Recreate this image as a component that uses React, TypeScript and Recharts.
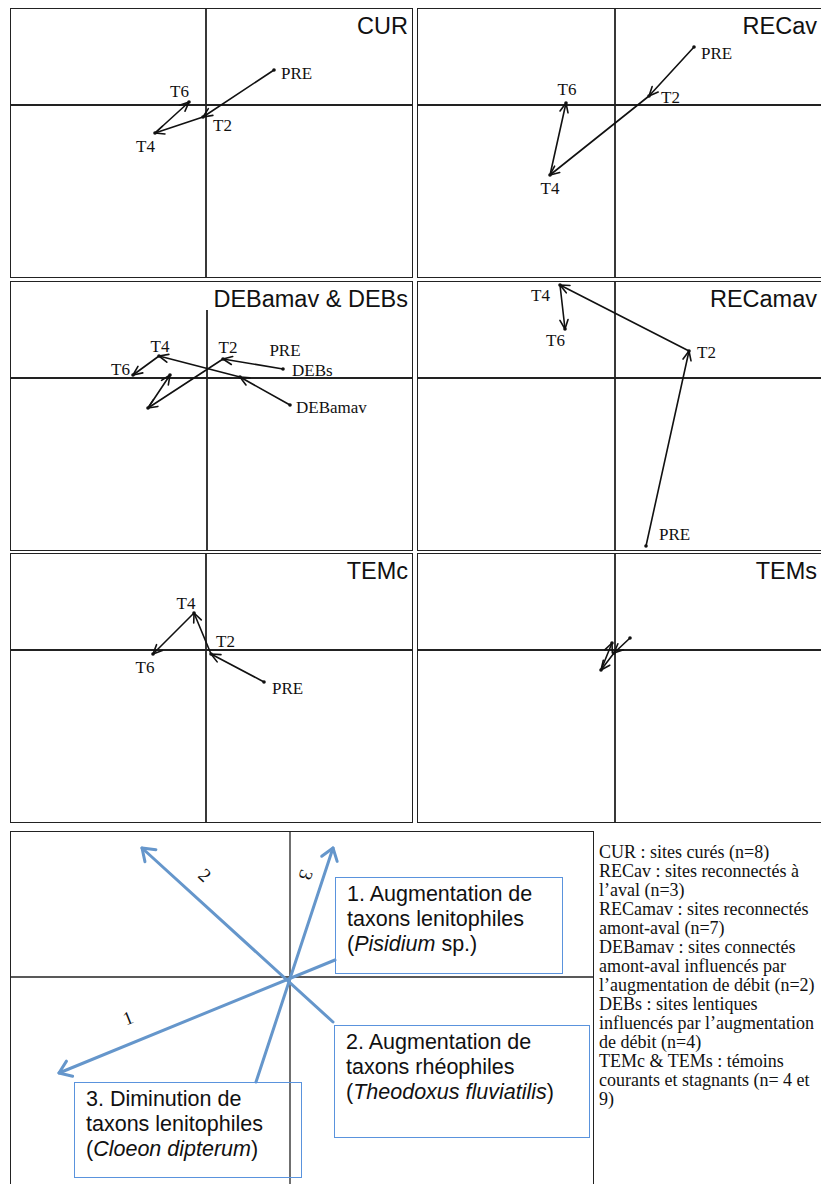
import React from 'react'
import { ScatterChart, Scatter, XAxis, YAxis, ReferenceLine } from 'recharts'

// pixels per ordination unit, shared by every panel
const PX = 100

// ordination scores, in the order PRE -> T2 -> T4 -> T6
const curX = [0.68, -0.03, -0.51, -0.17]
const curY = [0.35, -0.12, -0.28, 0.03]
const recavX = [0.79, 0.34, -0.65, -0.49]
const recavY = [0.58, 0.09, -0.7, 0.02]
const debamavX = [0.83, 0.33, -0.48, -0.74]
const debamavY = [-0.27, 0.01, 0.22, 0.03]
const debsX = [0.76, 0.16, -0.59, -0.37]
const debsY = [0.09, 0.19, -0.3, 0.03]
const recamavX = [0.31, 0.74, -0.55, -0.5]
const recamavY = [-1.68, 0.27, 0.93, 0.49]
const temcX = [0.58, 0.05, -0.12, -0.53]
const temcY = [-0.32, -0.04, 0.37, -0.04]
const temsX = [0.15, -0.01, -0.14, -0.03]
const temsY = [0.12, -0.03, -0.2, 0.07]

// interpretation arrows of the bottom panel
const arrowNames = ['1', '2', '3']
const arrowTailX = [0.45, 0.43, -0.34]
const arrowTailY = [0.17, -0.45, -1.05]
const arrowTipX = [-2.31, -1.48, 0.43]
const arrowTipY = [-0.96, 1.29, 1.29]
const arrowNameX = [-1.62, -0.85, 0.16]
const arrowNameY = [-0.41, 1.02, 1.02]
const arrowNameAngle = [-22, 42, 108]

const legendLines = [
  'CUR : sites curés (n=8)',
  'RECav : sites reconnectés à',
  'l’aval (n=3)',
  'RECamav : sites reconnectés',
  'amont-aval (n=7)',
  'DEBamav : sites connectés',
  'amont-aval influencés par',
  'l’augmentation de débit (n=2)',
  'DEBs : sites lentiques',
  'influencés par l’augmentation',
  'de débit (n=4)',
  'TEMc & TEMs : témoins',
  'courants et stagnants (n= 4 et',
  '9)',
]

type Anchor = 'start' | 'middle' | 'end'
type Lab = { s: number; i: number; text: string; dx: number; dy: number; anchor: Anchor }

const panels = [
  {
    title: 'CUR', box: [10, 8, 413, 278], origin: [206, 105],
    series: [[curX, curY]],
    labels: [
      { s: 0, i: 0, text: 'PRE', dx: 7, dy: 3, anchor: 'start' },
      { s: 0, i: 1, text: 'T2', dx: 10, dy: 8, anchor: 'start' },
      { s: 0, i: 2, text: 'T4', dx: 0, dy: 13, anchor: 'end' },
      { s: 0, i: 3, text: 'T6', dx: 0, dy: -11, anchor: 'end' },
    ] as Lab[],
  },
  {
    title: 'RECav', box: [417, 8, 823, 278], origin: [615, 105],
    series: [[recavX, recavY]],
    labels: [
      { s: 0, i: 0, text: 'PRE', dx: 7, dy: 6, anchor: 'start' },
      { s: 0, i: 1, text: 'T2', dx: 12, dy: 1, anchor: 'start' },
      { s: 0, i: 2, text: 'T4', dx: 0, dy: 13, anchor: 'middle' },
      { s: 0, i: 3, text: 'T6', dx: 1, dy: -14, anchor: 'middle' },
    ] as Lab[],
  },
  {
    title: 'DEBamav & DEBs', box: [10, 281, 413, 551], origin: [207, 378], vTop: 0.68,
    series: [[debamavX, debamavY], [debsX, debsY]],
    labels: [
      { s: 0, i: 0, text: 'DEBamav', dx: 6, dy: 2, anchor: 'start' },
      { s: 0, i: 2, text: 'T4', dx: 1, dy: -10, anchor: 'middle' },
      { s: 0, i: 3, text: 'T6', dx: -3, dy: -6, anchor: 'end' },
      { s: 1, i: 0, text: 'PRE', dx: 2, dy: -19, anchor: 'middle' },
      { s: 1, i: 0, text: 'DEBs', dx: 9, dy: 1, anchor: 'start' },
      { s: 1, i: 1, text: 'T2', dx: 5, dy: -12, anchor: 'middle' },
    ] as Lab[],
  },
  {
    title: 'RECamav', box: [417, 281, 823, 551], origin: [615, 378],
    series: [[recamavX, recamavY]],
    labels: [
      { s: 0, i: 0, text: 'PRE', dx: 13, dy: -12, anchor: 'start' },
      { s: 0, i: 1, text: 'T2', dx: 8, dy: 1, anchor: 'start' },
      { s: 0, i: 2, text: 'T4', dx: -10, dy: 10, anchor: 'end' },
      { s: 0, i: 3, text: 'T6', dx: 0, dy: 11, anchor: 'end' },
    ] as Lab[],
  },
  {
    title: 'TEMc', box: [10, 553, 413, 823], origin: [206, 650],
    series: [[temcX, temcY]],
    labels: [
      { s: 0, i: 0, text: 'PRE', dx: 8, dy: 6, anchor: 'start' },
      { s: 0, i: 1, text: 'T2', dx: 5, dy: -13, anchor: 'start' },
      { s: 0, i: 2, text: 'T4', dx: -8, dy: -10, anchor: 'middle' },
      { s: 0, i: 3, text: 'T6', dx: -8, dy: 13, anchor: 'middle' },
    ] as Lab[],
  },
  {
    title: 'TEMs', box: [417, 553, 823, 823], origin: [615, 650],
    series: [[temsX, temsY]],
    labels: [] as Lab[],
  },
]

const arrowShape = (color: string, width: number, head: number, spread: number) => (props: any) => {
  const { x1, y1, x2, y2 } = props
  const a = Math.atan2(y2 - y1, x2 - x1)
  const ax = x2 - head * Math.cos(a - spread)
  const ay = y2 - head * Math.sin(a - spread)
  const bx = x2 - head * Math.cos(a + spread)
  const by = y2 - head * Math.sin(a + spread)
  return (
    <g>
      <line x1={x1} y1={y1} x2={x2} y2={y2} stroke={color} strokeWidth={width} strokeLinecap="round" />
      <path d={`M${ax},${ay} L${x2},${y2} L${bx},${by}`} fill="none" stroke={color}
        strokeWidth={width} strokeLinecap="round" strokeLinejoin="round" />
    </g>
  )
}

const blackArrow = arrowShape('#111', 1.6, 10, 0.42)
const blueArrow = arrowShape('#6596cb', 3, 14, 0.62)

const dotShape = (props: any) => <circle cx={props.cx} cy={props.cy} r={1.8} fill="#111" />

const labelShape = (props: any) => {
  const { cx, cy, payload } = props
  return (
    <text x={cx + payload.dx} y={cy + payload.dy} textAnchor={payload.anchor} dominantBaseline="central"
      fontFamily="'Liberation Serif', serif" fontSize={17} fill="#111">
      {payload.text}
    </text>
  )
}

const numberShape = (props: any) => {
  const { cx, cy, payload } = props
  return (
    <text x={cx} y={cy} textAnchor="middle" dominantBaseline="central"
      transform={`rotate(${payload.angle} ${cx} ${cy})`}
      fontFamily="'Liberation Serif', serif" fontSize={19} fill="#111">
      {payload.text}
    </text>
  )
}

function frameDomain(box: number[], origin: number[]) {
  const [l, t, r, b] = box
  const [ox, oy] = origin
  return {
    w: r - l, h: b - t,
    xDom: [(l - ox) / PX, (r - ox) / PX],
    yDom: [(oy - b) / PX, (oy - t) / PX],
  }
}

function Panel({ p }: { p: (typeof panels)[number] }) {
  const [l, t] = p.box
  const { w, h, xDom, yDom } = frameDomain(p.box, p.origin)
  const points = p.series.flatMap(([xs, ys]) => xs.map((x, i) => ({ x, y: ys[i] })))
  const labels = p.labels.map(lb => ({
    x: p.series[lb.s][0][lb.i], y: p.series[lb.s][1][lb.i],
    text: lb.text, dx: lb.dx, dy: lb.dy, anchor: lb.anchor,
  }))
  const vTop = (p as any).vTop
  return (
    <div style={{ position: 'absolute', left: l, top: t, width: w, height: h }}>
      <ScatterChart width={w} height={h} margin={{ top: 0, right: 0, bottom: 0, left: 0 }}>
        <XAxis type="number" dataKey="x" domain={xDom} hide allowDataOverflow />
        <YAxis type="number" dataKey="y" domain={yDom} hide allowDataOverflow />
        <ReferenceLine y={0} stroke="#222" strokeWidth={1.8} />
        {vTop == null
          ? <ReferenceLine x={0} stroke="#222" strokeWidth={1.8} />
          : <ReferenceLine segment={[{ x: 0, y: yDom[0] }, { x: 0, y: vTop }]} stroke="#222" strokeWidth={1.8} ifOverflow="visible" />}
        {p.series.flatMap(([xs, ys], s) =>
          xs.slice(1).map((x, i) => (
            <ReferenceLine key={`${s}-${i}`} ifOverflow="visible" shape={blackArrow}
              segment={[{ x: xs[i], y: ys[i] }, { x, y: ys[i + 1] }]} />
          ))
        )}
        <Scatter data={points} shape={dotShape} isAnimationActive={false} />
        <Scatter data={labels} shape={labelShape} isAnimationActive={false} />
      </ScatterChart>
      <div style={{
        position: 'absolute', inset: 0, border: '1.8px solid #222', boxSizing: 'border-box', pointerEvents: 'none',
      }} />
      <div style={{
        position: 'absolute', right: p.box[2] > 821 ? 6 : 5, top: 4, fontFamily: "'Liberation Sans', Arial, sans-serif",
        fontSize: 23.5, lineHeight: '28px', color: '#111',
      }}>
        {p.title}
      </div>
    </div>
  )
}

const textBox: React.CSSProperties = {
  position: 'absolute', border: '1.5px solid #5a93dd', boxSizing: 'border-box',
  padding: '4px 0 0 11px', fontFamily: "'Liberation Sans', Arial, sans-serif",
  fontSize: 21.5, lineHeight: '25px', color: '#111', whiteSpace: 'nowrap',
}

function BottomPanel() {
  const box = [10, 831, 594, 1192]
  const { w, h, xDom, yDom } = frameDomain(box, [290, 977])
  const names = arrowNames.map((text, i) => ({ x: arrowNameX[i], y: arrowNameY[i], text, angle: arrowNameAngle[i] }))
  return (
    <div style={{ position: 'absolute', left: box[0], top: box[1], width: w, height: h }}>
      <ScatterChart width={w} height={h} margin={{ top: 0, right: 0, bottom: 0, left: 0 }}>
        <XAxis type="number" dataKey="x" domain={xDom} hide allowDataOverflow />
        <YAxis type="number" dataKey="y" domain={yDom} hide allowDataOverflow />
        <ReferenceLine y={0} stroke="#222" strokeWidth={1.3} />
        <ReferenceLine x={0} stroke="#222" strokeWidth={1.3} />
        {arrowNames.map((n, i) => (
          <ReferenceLine key={n} ifOverflow="visible" shape={blueArrow}
            segment={[{ x: arrowTailX[i], y: arrowTailY[i] }, { x: arrowTipX[i], y: arrowTipY[i] }]} />
        ))}
        <Scatter data={names} shape={numberShape} isAnimationActive={false} />
      </ScatterChart>
      <div style={{
        position: 'absolute', inset: 0, border: '1.3px solid #222', boxSizing: 'border-box', pointerEvents: 'none',
      }} />
    </div>
  )
}

export default function App() {
  return (
    <div style={{ position: 'absolute', left: 0, top: 0, width: 821, height: 1184, overflow: 'hidden', background: '#fff' }}>
      {panels.map(p => <Panel key={p.title} p={p} />)}
      <BottomPanel />
      <div style={{ ...textBox, left: 335, top: 877, width: 228, height: 97 }}>
        1. Augmentation de<br />taxons lenitophiles<br />(<i>Pisidium</i> sp.)
      </div>
      <div style={{ ...textBox, left: 334, top: 1025, width: 256, height: 113 }}>
        2. Augmentation de<br />taxons rhéophiles<br />(<i>Theodoxus fluviatilis</i>)
      </div>
      <div style={{ ...textBox, left: 74, top: 1082, width: 228, height: 96 }}>
        3. Diminution de<br />taxons lenitophiles<br />(<i>Cloeon dipterum</i>)
      </div>
      <div style={{
        position: 'absolute', left: 599, top: 843, fontFamily: "'Liberation Serif', 'Times New Roman', serif",
        fontSize: 18, lineHeight: '19px', color: '#111', whiteSpace: 'nowrap',
      }}>
        {legendLines.map(line => <div key={line}>{line}</div>)}
      </div>
    </div>
  )
}
